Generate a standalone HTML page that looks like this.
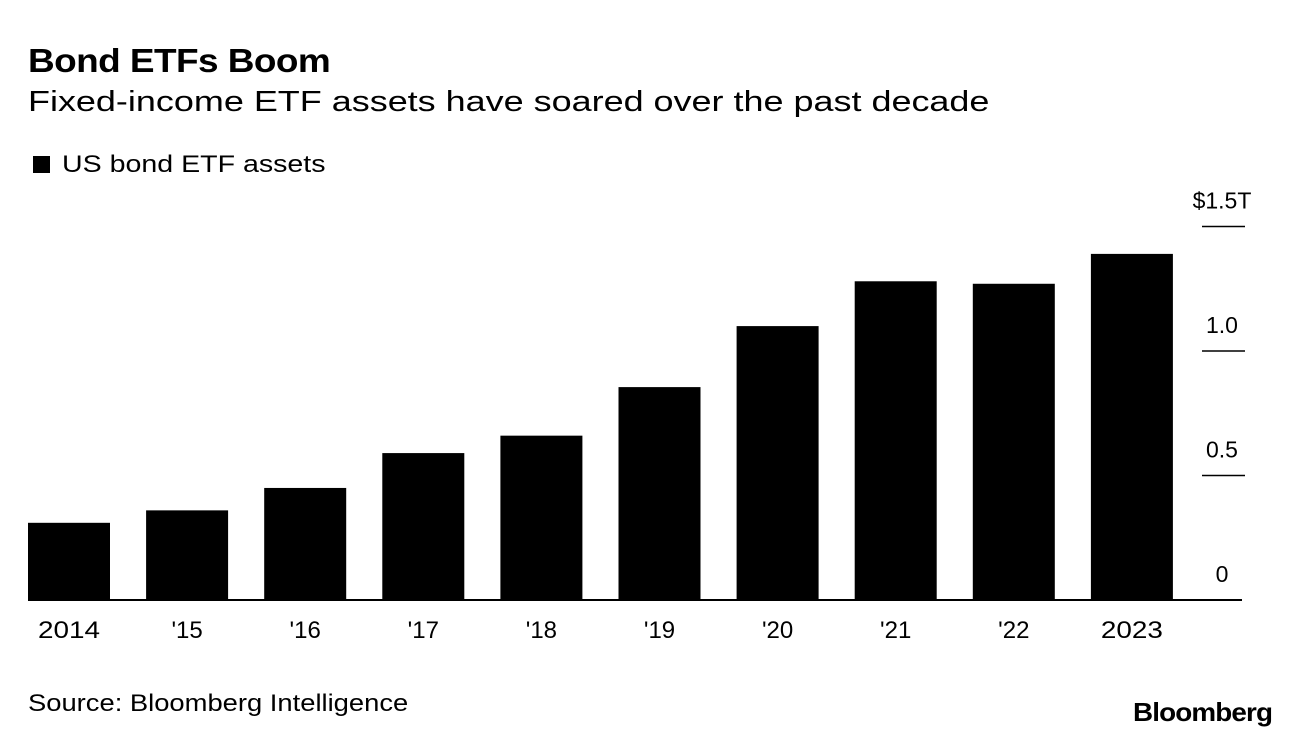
<!DOCTYPE html>
<html><head><meta charset="utf-8"><style>
body{margin:0;background:#fff;font-family:"Liberation Sans",sans-serif;color:#000;}
#wrap{position:relative;width:1296px;height:744px;overflow:hidden;}
.t{position:absolute;white-space:nowrap;transform-origin:0 0;}
</style></head><body>
<div id="wrap">
<div class="t" style="left:28px;top:42px;font-size:33px;font-weight:bold;letter-spacing:-0.5px;transform:scaleX(1.12)">Bond ETFs Boom</div>
<div class="t" style="left:28px;top:86px;font-size:29px;transform:scaleX(1.24)">Fixed-income ETF assets have soared over the past decade</div>
<div class="t" style="left:33px;top:151px;font-size:24px"><span style="display:inline-block;width:17px;height:17px;background:#000;margin-right:12px;vertical-align:-1px"></span><span style="display:inline-block;transform:scaleX(1.19);transform-origin:0 0">US bond ETF assets</span></div>
<svg id="chart" width="1296" height="744" style="position:absolute;left:0;top:0"></svg>
<div class="t" style="left:28px;top:690px;font-size:24px;transform:scaleX(1.14)">Source: Bloomberg Intelligence</div>
<div class="t" style="left:1133px;top:697px;font-size:26px;font-weight:bold;letter-spacing:-0.8px;transform:scaleX(1.07)">Bloomberg</div>
</div>
<script>
const categories=["2014","'15","'16","'17","'18","'19","'20","'21","'22","2023"];
const values=[0.31,0.36,0.45,0.59,0.66,0.855,1.10,1.28,1.27,1.39];
const tickValues=[0,0.5,1.0,1.5];
const tickLabels=["0","0.5","1.0","$1.5T"];
const NS="http://www.w3.org/2000/svg";
const svg=document.getElementById('chart');
const y0=600,pxPerUnit=249;
function y(v){return y0-v*pxPerUnit;}
function x(i){return 69+i*118.1;}
const bw=82;
function el(t,a){const e=document.createElementNS(NS,t);for(const k in a)e.setAttribute(k,a[k]);svg.appendChild(e);return e;}
values.forEach((v,i)=>{
 const r=el('rect',{x:x(i)-bw/2,y:y(v),width:bw,height:y0-y(v),fill:'#000'});
 
 
 const attrs={x:x(i),y:638,'text-anchor':'middle','font-size':24,'font-family':'Liberation Sans, sans-serif'};
 if(categories[i].length===4){attrs.textLength=62;attrs.lengthAdjust='spacingAndGlyphs';}
 const t=el('text',attrs);
 t.textContent=categories[i];
 
 
});
tickValues.forEach((v,i)=>{
 if(v>0){const l=el('line',{x1:1202,x2:1245,y1:y(v),y2:y(v),stroke:'#000','stroke-width':1.5});
 
 }
 const t=el('text',{x:1222,y:y(v)-18,'text-anchor':'middle','font-size':23,'font-family':'Liberation Sans, sans-serif'});
 t.textContent=tickLabels[i];
 
 
});
const b=el('line',{x1:28,x2:1242,y1:y0,y2:y0,stroke:'#000','stroke-width':2});


</script>
</body></html>
